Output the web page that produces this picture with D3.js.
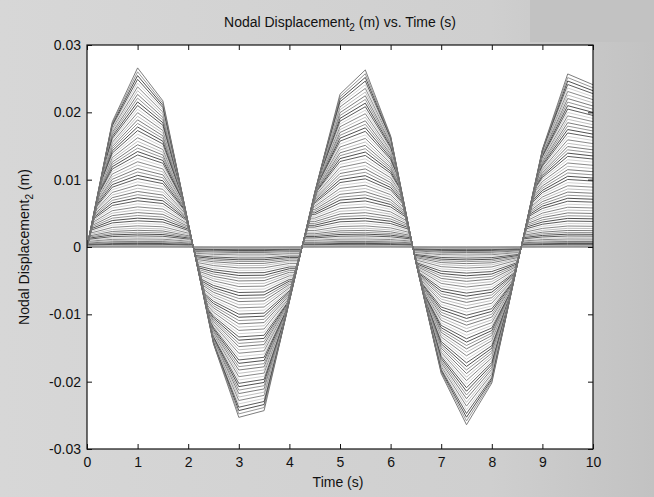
<!DOCTYPE html>
<html lang="en">
<head>
<meta charset="UTF-8">
<title>Nodal Displacement vs. Time</title>
<script src="https://cdn.jsdelivr.net/npm/d3@7"></script>
<style>
  body { margin: 0; background: #d0d0d0; }
  svg { display: block; }
  text { font-family: "Liberation Sans", Arial, sans-serif; fill: #111; }
</style>
</head>
<body>
<div id="chart"></div>
<script>
// time samples of the solver output (s)
const timeS = [0, 0.5, 1, 1.5, 2, 2.5, 3, 3.5, 4, 4.5, 5, 5.5, 6, 6.5, 7, 7.5, 8, 8.5, 9, 9.5, 10];
// displacement of the outermost node (top line), m
const tipDisp = [0, 0.0186, 0.0266, 0.0217, 0.0036, -0.0144, -0.0253, -0.0243, -0.0081, 0.0081,
  0.0227, 0.0263, 0.0165, -0.0023, -0.0188, -0.0264, -0.0202, -0.0028, 0.0145, 0.0257, 0.0241];
// peak level of every node relative to the top line, read at t = 1 s
const nodeLevel = [1.000, 0.978, 0.957, 0.936, 0.915, 0.894, 0.873, 0.852, 0.831, 0.810,
  0.790, 0.770, 0.750, 0.730, 0.710, 0.690, 0.670, 0.650, 0.630, 0.610,
  0.590, 0.571, 0.552, 0.533, 0.514, 0.495, 0.476, 0.457, 0.438, 0.419,
  0.400, 0.382, 0.364, 0.346, 0.328, 0.310, 0.292, 0.275, 0.258, 0.241,
  0.224, 0.208, 0.192, 0.176, 0.161, 0.146, 0.132, 0.118, 0.105, 0.093,
  0.082, 0.072, 0.062, 0.053, 0.045, 0.038, 0.031, 0.025, 0.020, 0.015,
  0.011, 0.008, 0.005, 0.003, 0.0015, 0.0005];
// how peaked a node's curve is (1 = same shape as top line, small = flat top)
const sharpLevel = [0, 0.1, 0.5, 0.9, 1];
const sharpGamma = [0.12, 0.2, 0.45, 0.85, 1];
// how closely the steep flanks follow the top line
const edgeLevel = [0, 1];
const edgeRatio = [0.75, 1];

const xTicks = [0, 1, 2, 3, 4, 5, 6, 7, 8, 9, 10];
const yTicks = [-0.03, -0.02, -0.01, 0, 0.01, 0.02, 0.03];
// matlab colour order as it came out of the scanner
const lineGrays = ["#3a3a3a", "#8a8a8a", "#6e6e6e", "#b9b9b9", "#7c7c7c", "#cdcdcd", "#4a4a4a"];

const width = 654, height = 497;
const x = d3.scaleLinear([0, 10], [87, 593]);
const y = d3.scaleLinear([-0.03, 0.03], [449, 45]);

const tipMax = d3.max(tipDisp, Math.abs);
const gammaOf = d3.scaleLinear(sharpLevel, sharpGamma).clamp(true);
const edgeOf = d3.scaleLinear(edgeLevel, edgeRatio).clamp(true);

function nodePoints(level) {
  const amp = level * tipMax, gam = gammaOf(level), edge = edgeOf(level);
  const chev = tipDisp.map(v => amp * Math.pow(Math.max(Math.abs(v) / tipMax, 0.1), gam));
  const pts = [];
  for (let i = 0; i < timeS.length - 1; i++) {
    const t0 = timeS[i], t1 = timeS[i + 1];
    const tipAt = t => tipDisp[i] + (tipDisp[i + 1] - tipDisp[i]) * (t - t0) / (t1 - t0);
    const chevAt = t => chev[i] + (chev[i + 1] - chev[i]) * (t - t0) / (t1 - t0);
    const cuts = [t0];
    if (tipDisp[i] * tipDisp[i + 1] < 0)
      cuts.push(t0 + (t1 - t0) * tipDisp[i] / (tipDisp[i] - tipDisp[i + 1]));
    cuts.push(t1);
    for (let j = 0; j < cuts.length - 1; j++) {
      const ta = cuts[j], tb = cuts[j + 1];
      const sgn = Math.sign(tipAt((ta + tb) / 2));
      const gap = t => edge * Math.abs(tipAt(t)) - chevAt(t);
      const val = t => sgn * Math.min(edge * Math.abs(tipAt(t)), chevAt(t));
      pts.push([ta, val(ta)]);
      const ga = gap(ta), gb = gap(tb);
      if (ga * gb < 0) {
        const tc = ta + (tb - ta) * ga / (ga - gb);
        pts.push([tc, val(tc)]);
      }
    }
  }
  const n = timeS.length - 1;
  pts.push([timeS[n], Math.sign(tipDisp[n]) * Math.min(edge * Math.abs(tipDisp[n]), chev[n])]);
  return pts;
}

const svg = d3.select("#chart").append("svg")
    .attr("width", width)
    .attr("height", height);

// scanned paper background
const defs = svg.append("defs");
const bg = defs.append("linearGradient").attr("id", "paper").attr("x1", 0).attr("x2", 1).attr("y1", 0).attr("y2", 0);
bg.append("stop").attr("offset", "0%").attr("stop-color", "#d7d7d7");
bg.append("stop").attr("offset", "75%").attr("stop-color", "#cfcfcf");
bg.append("stop").attr("offset", "100%").attr("stop-color", "#c2c2c2");
svg.append("rect").attr("width", width).attr("height", height).attr("fill", "url(#paper)");
svg.append("rect").attr("x", 530).attr("width", 124).attr("height", 42).attr("fill", "#c2c2c2");

svg.append("rect")
    .attr("x", x(0)).attr("y", y(0.03))
    .attr("width", x(10) - x(0)).attr("height", y(-0.03) - y(0.03))
    .attr("fill", "#fff");

defs.append("clipPath").attr("id", "plotclip")
  .append("rect")
    .attr("x", x(0)).attr("y", y(0.03))
    .attr("width", x(10) - x(0)).attr("height", y(-0.03) - y(0.03));

const line = d3.line().x(d => x(d[0])).y(d => y(d[1]));

// smallest nodes first so the tip ends up on top
const order = d3.range(nodeLevel.length).reverse();
svg.append("g")
    .attr("clip-path", "url(#plotclip)")
    .attr("fill", "none")
    .attr("stroke-width", 0.9)
    .attr("stroke-linejoin", "round")
  .selectAll("path")
  .data(order)
  .join("path")
    .attr("stroke", (d, i) => lineGrays[i % lineGrays.length])
    .attr("d", d => line(nodePoints(nodeLevel[d])));

// axes, matlab style: ticks inside on all four sides
const tickFont = g => g.selectAll("text").attr("font-size", 14).attr("fill", "#111");
const noDomain = g => g.select(".domain").remove();

svg.append("g")
    .attr("transform", `translate(0,${y(-0.03)})`)
    .call(d3.axisBottom(x).tickValues(xTicks).tickSizeInner(-5).tickSizeOuter(0).tickPadding(8).tickFormat(d3.format("d")))
    .call(noDomain).call(tickFont);
svg.append("g")
    .attr("transform", `translate(0,${y(0.03)})`)
    .call(d3.axisTop(x).tickValues(xTicks).tickSizeInner(-5).tickSizeOuter(0).tickFormat(""))
    .call(noDomain);
svg.append("g")
    .attr("transform", `translate(${x(0)},0)`)
    .call(d3.axisLeft(y).tickValues(yTicks).tickSizeInner(-5).tickSizeOuter(0).tickPadding(6)
      .tickFormat(d => d === 0 ? "0" : d3.format(".2f")(d).replace("−", "-")))
    .call(noDomain).call(tickFont);
svg.append("g")
    .attr("transform", `translate(${x(10)},0)`)
    .call(d3.axisRight(y).tickValues(yTicks).tickSizeInner(-5).tickSizeOuter(0).tickFormat(""))
    .call(noDomain);

svg.selectAll(".tick line").attr("stroke", "#111");
svg.selectAll("g text").attr("font-family", '"Liberation Sans", Arial, sans-serif');

svg.append("rect")
    .attr("x", x(0)).attr("y", y(0.03))
    .attr("width", x(10) - x(0)).attr("height", y(-0.03) - y(0.03))
    .attr("fill", "none").attr("stroke", "#111").attr("stroke-width", 1.2);

// title and labels
const title = svg.append("text")
    .attr("x", 340).attr("y", 27)
    .attr("text-anchor", "middle").attr("font-size", 14);
title.append("tspan").text("Nodal Displacement");
title.append("tspan").attr("font-size", 10).attr("dy", 4).text("2");
title.append("tspan").attr("dy", -4).text(" (m) vs. Time (s)");

svg.append("text")
    .attr("x", 338).attr("y", 487)
    .attr("text-anchor", "middle").attr("font-size", 14)
    .text("Time (s)");

const ylab = svg.append("text")
    .attr("transform", `translate(29,${y(0)}) rotate(-90)`)
    .attr("text-anchor", "middle").attr("font-size", 14);
ylab.append("tspan").text("Nodal Displacement");
ylab.append("tspan").attr("font-size", 10).attr("dy", 4).text("2");
ylab.append("tspan").attr("dy", -4).text(" (m)");
</script>
</body>
</html>
